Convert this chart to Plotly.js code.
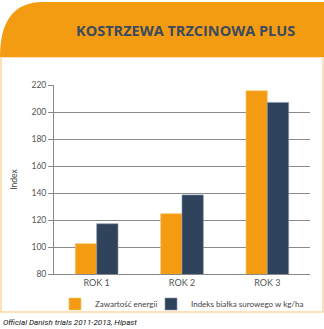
<!DOCTYPE html>
<html><head><meta charset="utf-8">
<script src="https://cdn.plot.ly/plotly-3.0.1.min.js"></script>
<style>html,body{margin:0;padding:0;background:#fff;}#c{width:324px;height:329px;}</style>
</head><body><div id="c"></div>
<script>
const categories = ['ROK 1', 'ROK 2', 'ROK 3'];
const energy = [102.5, 124.7, 215.7];
const protein = [117.2, 138.6, 207.1];
const seriesNames = ['Zawartość energii', 'Indeks białka surowego w kg/ha'];
const titleText = 'KOSTRZEWA TRZCINOWA PLUS';
const sourceText = 'Official Danish trials 2011-2013, Hipast';
const yTitle = 'Index';

const L = 54, R = 310, T = 85, B = 274;
const X = px => (px - L) / (R - L);
const Y = py => (B - py) / (B - T);

const header = `M ${X(0)},${Y(57)} Q ${X(0)},${Y(2)} ${X(43)},${Y(2)} L ${X(324)},${Y(2)} L ${X(324)},${Y(57)} Z`;

const data = [
  {type: 'bar', x: categories, y: energy, name: seriesNames[0], legend: 'legend',
   marker: {color: '#F39C12', line: {color: '#f8c46a', width: 0.6}}},
  {type: 'bar', x: categories, y: protein, name: seriesNames[1], legend: 'legend2',
   marker: {color: '#30435C', line: {color: '#8796ab', width: 0.6}}}
];

const legStyle = {font: {family: 'Lato, sans-serif', size: 8, color: '#444'}, itemwidth: 30, bgcolor: 'rgba(0,0,0,0)',
                  xanchor: 'left', yanchor: 'middle', y: Y(304), orientation: 'h'};

const layout = {
  width: 324, height: 329,
  margin: {l: L, r: 324 - R, t: T, b: 329 - B, autoexpand: false},
  paper_bgcolor: '#fff', plot_bgcolor: '#fff',
  barmode: 'group', bargap: 0.5, bargroupgap: 0,
  font: {family: 'Lato, sans-serif', color: '#555', size: 8},
  xaxis: {showgrid: false, showline: true, linecolor: '#888', linewidth: 1,
          ticks: '', tickfont: {size: 9, color: '#555'}, fixedrange: true},
  yaxis: {range: [80, 220], dtick: 20, tick0: 80, showgrid: true, gridcolor: '#8a8a8a', gridwidth: 1,
          showline: true, linecolor: '#888', linewidth: 1, ticks: 'outside', ticklen: 5, tickcolor: '#888',
          tickfont: {size: 8.5, color: '#555'}, zeroline: false,
          title: {text: yTitle, font: {size: 8.5, color: '#444'}, standoff: 12}},
  showlegend: true,
  legend: Object.assign({}, legStyle, {x: X(55)}),
  legend2: Object.assign({}, legStyle, {x: X(151)}),
  shapes: [
    {type: 'rect', xref: 'paper', yref: 'paper', x0: X(1), x1: X(323), y0: Y(312), y1: Y(57),
     line: {color: '#fbd7a2', width: 1.5}, fillcolor: 'rgba(0,0,0,0)', layer: 'below'},
    {type: 'path', xref: 'paper', yref: 'paper', path: header, fillcolor: '#F39C12',
     line: {width: 0}, layer: 'below'}
  ],
  annotations: [
    {xref: 'paper', yref: 'paper', x: X(185), y: Y(31), text: '<b>' + titleText + '</b>',
     showarrow: false, xanchor: 'center', yanchor: 'middle',
     font: {family: 'Open Sans, sans-serif', size: 14.5, color: '#3a4a5f'}},
    {xref: 'paper', yref: 'paper', x: X(1), y: Y(322), text: '<i>' + sourceText + '</i>',
     showarrow: false, xanchor: 'left', yanchor: 'middle',
     font: {family: 'Roboto, sans-serif', size: 8, color: '#111'}}
  ]
};

Plotly.newPlot('c', data, layout, {displayModeBar: false, staticPlot: true});
</script></body></html>
